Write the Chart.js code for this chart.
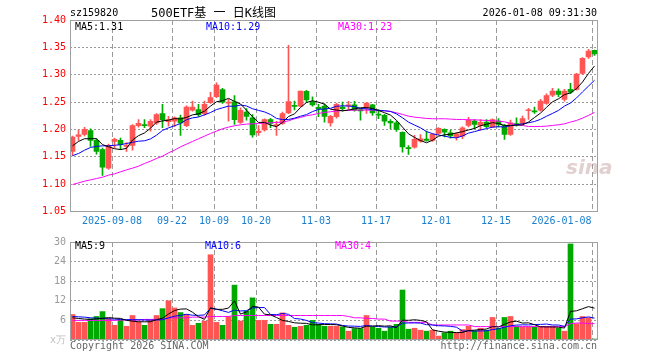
<!DOCTYPE html>
<html><head><meta charset="utf-8">
<script src="https://cdn.jsdelivr.net/npm/chart.js@4.4.1/dist/chart.umd.min.js"></script>
<style>
html,body{margin:0;padding:0;background:#fff;width:660px;height:360px;overflow:hidden;}
#wrap{position:relative;width:660px;height:360px;}
canvas{position:absolute;left:0;}
.t{position:absolute;font-family:"DejaVu Sans Mono",monospace;font-size:10px;line-height:12px;white-space:pre;color:#000;}
</style></head><body>
<div id="wrap">
<canvas id="k" width="660" height="232" style="top:0px"></canvas>
<canvas id="v" width="660" height="128" style="top:232px"></canvas>
<div class="t" style="left:70px;top:7px">sz159820</div>
<div class="t" style="left:151px;top:6px;font-size:12px;line-height:14px;font-family:'DejaVu Sans Mono','Noto Sans CJK SC',monospace">500ETF基 一 日K线图</div>
<div class="t" style="right:63px;top:7px">2026-01-08 09:31:30</div>
<div class="t" style="left:75px;top:21px">MA5:1.31</div>
<div class="t" style="left:206px;top:21px;color:#0000ff">MA10:1.29</div>
<div class="t" style="left:338px;top:21px;color:#ff00ff">MA30:1.23</div>
<div class="t" style="left:75px;top:240px">MA5:9</div>
<div class="t" style="left:205px;top:240px;color:#0000ff">MA10:6</div>
<div class="t" style="left:335px;top:240px;color:#ff00ff">MA30:4</div>
<div class="t" style="left:70px;top:340px;color:#666">Copyright 2026 SINA.COM</div>
<div class="t" style="right:63px;top:340px;color:#666">http://finance.sina.com.cn</div>
<div class="t" style="left:566px;top:156px;font-family:'DejaVu Sans',sans-serif;font-size:20px;line-height:22px;font-style:italic;font-weight:bold;color:rgba(190,150,150,0.45)">sina</div>
</div>
<script>
// ---------- data ----------
const opens = [1.160,1.187,1.191,1.198,1.180,1.163,1.129,1.178,1.180,1.169,
 1.171,1.207,1.2085,1.206,1.212,1.229,1.214,1.215,1.221,1.207,
 1.235,1.2365,1.229,1.249,1.260,1.273,1.248,1.2505,1.213,1.2315,
 1.221,1.194,1.199,1.218,1.207,1.211,1.230,1.244,1.2425,1.2695,
 1.2505,1.2402,1.2426,1.2121,1.2231,1.2408,1.2433,1.2451,1.2365,1.2396,
 1.2451,1.2274,1.2256,1.2146,1.2121,1.1945,1.167,1.1676,1.1786,1.1823,
 1.1798,1.1926,1.200,1.1938,1.1865,1.1877,1.2073,1.2152,1.2073,1.2134,
 1.2048,1.2152,1.2073,1.1908,1.2103,1.2109,1.2341,1.2335,1.2353,1.2475,
 1.2628,1.2701,1.2548,1.2731,1.2731,1.3024,1.3323,1.3445];
const highs = [1.188,1.199,1.204,1.201,1.183,1.166,1.173,1.184,1.184,1.176,
 1.209,1.218,1.218,1.218,1.229,1.246,1.224,1.223,1.226,1.243,
 1.252,1.246,1.252,1.268,1.285,1.275,1.255,1.262,1.2395,1.238,
 1.227,1.207,1.2195,1.2205,1.215,1.2315,1.3537,1.252,1.270,1.2713,
 1.2597,1.2457,1.2469,1.2256,1.2475,1.25,1.2512,1.2512,1.2378,1.2487,
 1.2457,1.2365,1.2274,1.2182,1.2152,1.1957,1.1707,1.189,1.1908,1.1969,
 1.1926,1.2036,1.2012,1.1987,1.1938,1.2048,1.2219,1.2182,1.2182,1.2182,
 1.2195,1.220,1.2091,1.217,1.2213,1.2243,1.2384,1.241,1.2548,1.2652,
 1.275,1.2744,1.2731,1.2841,1.3024,1.3311,1.3463,1.3451];
const lows = [1.152,1.180,1.188,1.169,1.155,1.116,1.127,1.166,1.163,1.160,
 1.162,1.204,1.203,1.197,1.209,1.203,1.206,1.205,1.189,1.205,
 1.2335,1.224,1.226,1.2475,1.258,1.2475,1.215,1.209,1.211,1.217,
 1.186,1.189,1.197,1.203,1.189,1.209,1.229,1.2355,1.2415,1.2487,
 1.2426,1.2231,1.2134,1.206,1.2207,1.2335,1.2365,1.2335,1.217,1.2292,
 1.2256,1.2195,1.2073,1.2012,1.1963,1.1585,1.1542,1.1658,1.1768,1.1786,
 1.178,1.1908,1.1865,1.1841,1.1804,1.1829,1.2048,1.2012,1.1987,1.203,
 1.203,1.2048,1.1816,1.189,1.206,1.2085,1.2182,1.2292,1.2335,1.2457,
 1.2597,1.2597,1.2518,1.2652,1.2719,1.3006,1.3299,1.3354];
const closes = [1.186,1.190,1.200,1.180,1.160,1.131,1.171,1.182,1.172,1.171,
 1.207,1.211,1.207,1.215,1.227,1.218,1.218,1.221,1.212,1.241,
 1.241,1.227,1.246,1.258,1.281,1.250,1.249,1.218,1.235,1.224,
 1.190,1.197,1.218,1.211,1.209,1.229,1.251,1.242,1.270,1.254,
 1.245,1.238,1.224,1.224,1.246,1.238,1.245,1.235,1.234,1.248,
 1.230,1.226,1.215,1.212,1.200,1.168,1.165,1.182,1.183,1.180,
 1.191,1.202,1.195,1.188,1.192,1.203,1.217,1.209,1.213,1.205,
 1.218,1.209,1.191,1.212,1.209,1.220,1.236,1.232,1.252,1.262,
 1.270,1.264,1.270,1.268,1.301,1.330,1.343,1.338];
const ma5 = [1.170,1.178,1.183,1.183,1.1832,1.1722,1.1684,1.1648,1.1632,1.1654,
 1.1806,1.1886,1.1936,1.2022,1.2134,1.2156,1.2170,1.2198,1.2192,1.2220,
 1.2266,1.2284,1.2334,1.2426,1.2506,1.2524,1.2568,1.2512,1.2466,1.2352,
 1.2232,1.2128,1.2128,1.2080,1.2050,1.2128,1.2236,1.2284,1.2402,1.2492,
 1.2524,1.2498,1.2462,1.2370,1.2354,1.2340,1.2354,1.2376,1.2396,1.2400,
 1.2384,1.2346,1.2306,1.2262,1.2166,1.2042,1.1920,1.1854,1.1796,1.1756,
 1.1802,1.1876,1.1902,1.1912,1.1936,1.1960,1.1990,1.2018,1.2068,1.2094,
 1.2124,1.2108,1.2072,1.2070,1.2078,1.2082,1.2136,1.2218,1.2298,1.2404,
 1.2504,1.2560,1.2636,1.2668,1.2746,1.2866,1.3024,1.3160];
const ma10 = [1.152,1.156,1.162,1.167,1.169,1.170,1.170,1.171,1.172,1.1743,
 1.1764,1.1785,1.1792,1.1827,1.1894,1.1981,1.2028,1.2067,1.2107,1.2177,
 1.2211,1.2227,1.2266,1.2309,1.2363,1.2395,1.2426,1.2423,1.2446,1.2429,
 1.2378,1.2348,1.2320,1.2273,1.2201,1.2180,1.2182,1.2206,1.2241,1.2271,
 1.2326,1.2367,1.2373,1.2386,1.2423,1.2432,1.2426,1.2419,1.2383,1.2377,
 1.2362,1.2350,1.2341,1.2329,1.2283,1.2213,1.2133,1.2080,1.2029,1.1961,
 1.1922,1.1898,1.1878,1.1854,1.1846,1.1881,1.1933,1.1960,1.1990,1.2015,
 1.2042,1.2049,1.2045,1.2069,1.2086,1.2103,1.2122,1.2145,1.2184,1.2241,
 1.2293,1.2348,1.2427,1.2483,1.2575,1.2685,1.2792,1.2898];
const ma30 = [1.0993,1.1023,1.1054,1.1078,1.1103,1.1127,1.1164,1.1188,1.1225,1.1261,
 1.1292,1.1328,1.1377,1.1420,1.1469,1.1511,1.1572,1.1621,1.1682,1.1731,
 1.1780,1.1829,1.1877,1.1926,1.1969,1.2012,1.2042,1.2067,1.2085,1.2097,
 1.2103,1.2109,1.2115,1.2121,1.2128,1.2134,1.2158,1.2195,1.2219,1.2250,
 1.2268,1.2292,1.2311,1.2323,1.2335,1.2347,1.2347,1.2353,1.2353,1.2353,
 1.2353,1.2347,1.2341,1.2329,1.2304,1.2274,1.2243,1.2225,1.2213,1.2201,
 1.2195,1.2195,1.2195,1.2189,1.2182,1.2182,1.2176,1.2176,1.2170,1.2164,
 1.2158,1.2152,1.2140,1.2109,1.2085,1.2073,1.2054,1.2054,1.2054,1.2060,
 1.2073,1.2085,1.2103,1.2134,1.2164,1.2207,1.2256,1.2311];
const volumes = [7.8,5.4,5.4,6.5,7.2,8.7,6.5,4.5,6.2,4.2,
 7.5,5.5,4.5,6.2,7.5,9.6,12.0,9.8,8.4,7.8,
 4.5,5.1,5.8,26.1,5.4,4.5,7.1,16.8,5.8,8.8,
 12.9,6.0,6.0,4.8,4.8,8.3,4.5,3.9,4.2,4.5,
 6.0,4.8,4.2,4.2,4.2,4.0,2.7,3.5,3.5,7.5,
 3.9,3.6,2.7,4.0,4.8,15.3,3.3,3.6,3.0,2.7,
 3.0,1.2,2.2,2.7,2.2,3.2,4.2,2.8,3.6,3.0,
 6.9,3.6,6.9,7.2,4.2,4.0,4.0,4.0,4.0,4.0,
 4.0,3.6,2.7,29.4,5.0,7.2,6.8,0.3];
const volMa5 = [6.8,6.6,6.4,6.3,6.46,6.64,6.86,6.68,6.62,6.02,
 5.78,5.58,5.58,5.58,6.24,6.66,7.96,9.02,9.46,9.52,
 8.50,7.12,6.32,9.86,9.38,9.38,9.78,11.98,7.92,8.60,
 10.28,10.06,7.90,7.70,6.90,5.98,5.68,5.26,5.14,5.08,
 4.62,4.68,4.74,4.74,4.68,4.28,3.86,3.72,3.58,4.24,
 4.22,4.40,4.24,4.34,3.80,6.08,6.02,6.20,6.00,5.58,
 3.12,2.70,2.42,2.36,2.26,2.30,2.90,3.02,3.20,3.36,
 4.10,3.98,4.80,5.52,5.76,5.18,5.26,4.68,4.04,4.00,
 4.00,3.92,3.66,8.74,8.94,9.58,10.22,9.74];
const volMa10 = [7.2,7.1,7.0,6.8,6.7,6.6,6.5,6.4,6.3,6.24,
 6.21,6.22,6.13,6.10,6.13,6.22,6.77,7.30,7.52,7.88,
 7.58,7.54,7.67,9.66,9.45,8.94,8.45,9.15,8.89,8.99,
 9.83,9.92,9.94,7.81,7.75,8.13,7.87,6.58,6.42,5.99,
 5.30,5.18,5.00,4.94,4.88,4.45,4.27,4.23,4.16,4.46,
 4.25,4.13,3.98,3.96,4.02,5.15,5.21,5.22,5.17,4.69,
 4.60,4.36,4.31,4.18,3.92,2.71,2.80,2.72,2.78,2.81,
 3.20,3.44,3.91,4.36,4.56,4.64,4.62,4.74,4.78,4.88,
 4.59,4.59,4.17,6.39,6.47,6.79,7.07,6.70];
const volMa30 = [6.0,6.0,6.0,6.0,6.0,6.0,6.0,6.0,6.1,6.1,
 6.1,6.1,6.3,6.3,6.3,6.3,6.8,6.8,6.8,6.8,
 7.0,7.0,7.0,7.2,7.2,7.2,7.2,7.5,7.5,7.5,
 7.5,7.5,7.5,7.5,7.5,7.5,7.5,7.5,7.5,7.5,
 7.5,7.5,7.5,7.5,7.5,7.5,7.2,6.8,6.8,6.6,
 6.6,6.4,6.4,5.8,5.8,5.8,5.4,5.4,5.4,5.4,
 4.6,4.6,4.6,4.6,4.6,4.6,4.6,4.1,4.1,4.1,
 4.1,4.1,4.1,4.1,4.1,4.1,4.1,4.1,4.1,4.1,
 4.1,4.1,4.1,5.0,5.2,5.2,5.0,5.0];
const dateTickIndex = [7,17,24,31,41,51,61,71,87];
const dateTickLabels = ['2025-09-08','09-22','10-09','10-20','11-03','11-17','12-01','12-15','2026-01-08'];
const priceTicks = [1.05,1.10,1.15,1.20,1.25,1.30,1.35,1.40];
const volumeTicks = [0,6,12,18,24,30];
const volumeTickLabels = ['x万','6','12','18','24','30'];

// ---------- layout / style ----------
const SLOT = 6;                 // px per trading day
const X_MIN = -2.5 / SLOT;      // bar 0 centred 2.5px right of the frame
const X_MAX = X_MIN + 528 / SLOT;
const RED = '#ff5555', GREEN = '#00a800';
const GRID = '#9a9a9a';
const FONT = {family: '"DejaVu Sans Mono", monospace', size: 10};
const up = closes.map((c, i) => c >= opens[i]);
const colors = up.map(u => u ? RED : GREEN);
const idx = closes.map((_, i) => i);

// x ticks: grid lines at slot left edges; last label kept inside the frame
const xTicks = [];
dateTickIndex.forEach((d, k) => {
  const edge = d + X_MIN;
  if (k === dateTickIndex.length - 1) {
    xTicks.push({value: edge - 30.5 / SLOT, label: dateTickLabels[k], grid: false});
    xTicks.push({value: edge, label: '', grid: true});
  } else {
    xTicks.push({value: edge, label: dateTickLabels[k], grid: true});
  }
});

const frame = {
  id: 'frame',
  afterDraw(chart) {
    const a = chart.chartArea, c = chart.ctx;
    c.save();
    c.strokeStyle = '#a0a0a0';
    c.lineWidth = 1;
    c.setLineDash([]);
    c.strokeRect(Math.round(a.left) + 0.5, Math.round(a.top) + 0.5,
                 Math.round(a.right - a.left) - 1, Math.round(a.bottom - a.top) - 1);
    c.restore();
  }
};

function xScale(showLabels) {
  return {
    type: 'linear', min: X_MIN, max: X_MAX, offset: false,
    afterBuildTicks: s => { s.ticks = xTicks.map(t => ({value: t.value})); },
    afterFit: s => { s.height = showLabels ? 20.5 : 0; },
    ticks: {display: showLabels, autoSkip: false, maxRotation: 0, minRotation: 0,
      padding: 4, color: '#1a7fd0', font: FONT,
      callback: (v, i) => xTicks[i] ? xTicks[i].label : ''},
    grid: {display: true, drawOnChartArea: true, offset: false, drawTicks: false, lineWidth: 1,
      color: c => (xTicks[c.index] && xTicks[c.index].grid) ? GRID : 'rgba(0,0,0,0)'},
    border: {display: false, dash: [5, 3]}
  };
}
function yGrid() {
  return {display: true, drawOnChartArea: true, drawTicks: false, lineWidth: 1, color: GRID};
}
function line(data, color, order) {
  return {type: 'line', data: data.map((v, i) => ({x: i, y: v})), borderColor: color,
    borderWidth: 1, pointRadius: 0, tension: 0, fill: false, order: order};
}

new Chart(document.getElementById('k'), {
  type: 'bar',
  data: {datasets: [
    line(ma5, '#000000', 0),
    line(ma10, '#0000ff', 1),
    line(ma30, '#ff00ff', 2),
    {type: 'bar', data: idx.map(i => ({x: i, y: [opens[i], closes[i]]})), backgroundColor: colors,
      barThickness: 5, grouped: false, minBarLength: 1, borderWidth: 0, order: 3},
    {type: 'bar', data: idx.map(i => ({x: i, y: [lows[i], highs[i]]})), backgroundColor: colors,
      barThickness: 1, grouped: false, borderWidth: 0, order: 4}
  ]},
  options: {
    responsive: false, animation: false, events: [], devicePixelRatio: 1,
    layout: {padding: {left: 0, right: 62, top: 20, bottom: 0}},
    plugins: {legend: {display: false}, tooltip: {enabled: false}},
    scales: {
      x: xScale(true),
      y: {type: 'linear', min: 1.05, max: 1.40,
        afterBuildTicks: s => { s.ticks = priceTicks.map(v => ({value: v})); },
        afterFit: s => { s.width = 70; },
        ticks: {color: '#ff0000', font: FONT, padding: 4, callback: v => v.toFixed(2)},
        grid: yGrid(),
        border: {display: false, dash: [2, 2]}}
    }
  },
  plugins: [frame]
});

new Chart(document.getElementById('v'), {
  type: 'bar',
  data: {datasets: [
    line(volMa5, '#000000', 0),
    line(volMa10, '#0000ff', 1),
    line(volMa30, '#ff00ff', 2),
    {type: 'bar', data: idx.map(i => ({x: i, y: volumes[i]})), backgroundColor: colors,
      barThickness: 5, grouped: false, borderWidth: 0, order: 3}
  ]},
  options: {
    responsive: false, animation: false, events: [], devicePixelRatio: 1,
    layout: {padding: {left: 0, right: 62, top: 8, bottom: 20}},
    plugins: {legend: {display: false}, tooltip: {enabled: false}},
    scales: {
      x: xScale(false),
      y: {type: 'linear', min: 0, max: 30,
        afterBuildTicks: s => { s.ticks = volumeTicks.map(v => ({value: v})); },
        afterFit: s => { s.width = 70; },
        ticks: {color: c => c.index === 0 ? '#c0c0c0' : '#999999', font: FONT, padding: 4,
          callback: (v, i) => volumeTickLabels[i]},
        grid: yGrid(),
        border: {display: false, dash: [2, 2]}}
    }
  },
  plugins: [frame]
});
</script>
</body></html>
